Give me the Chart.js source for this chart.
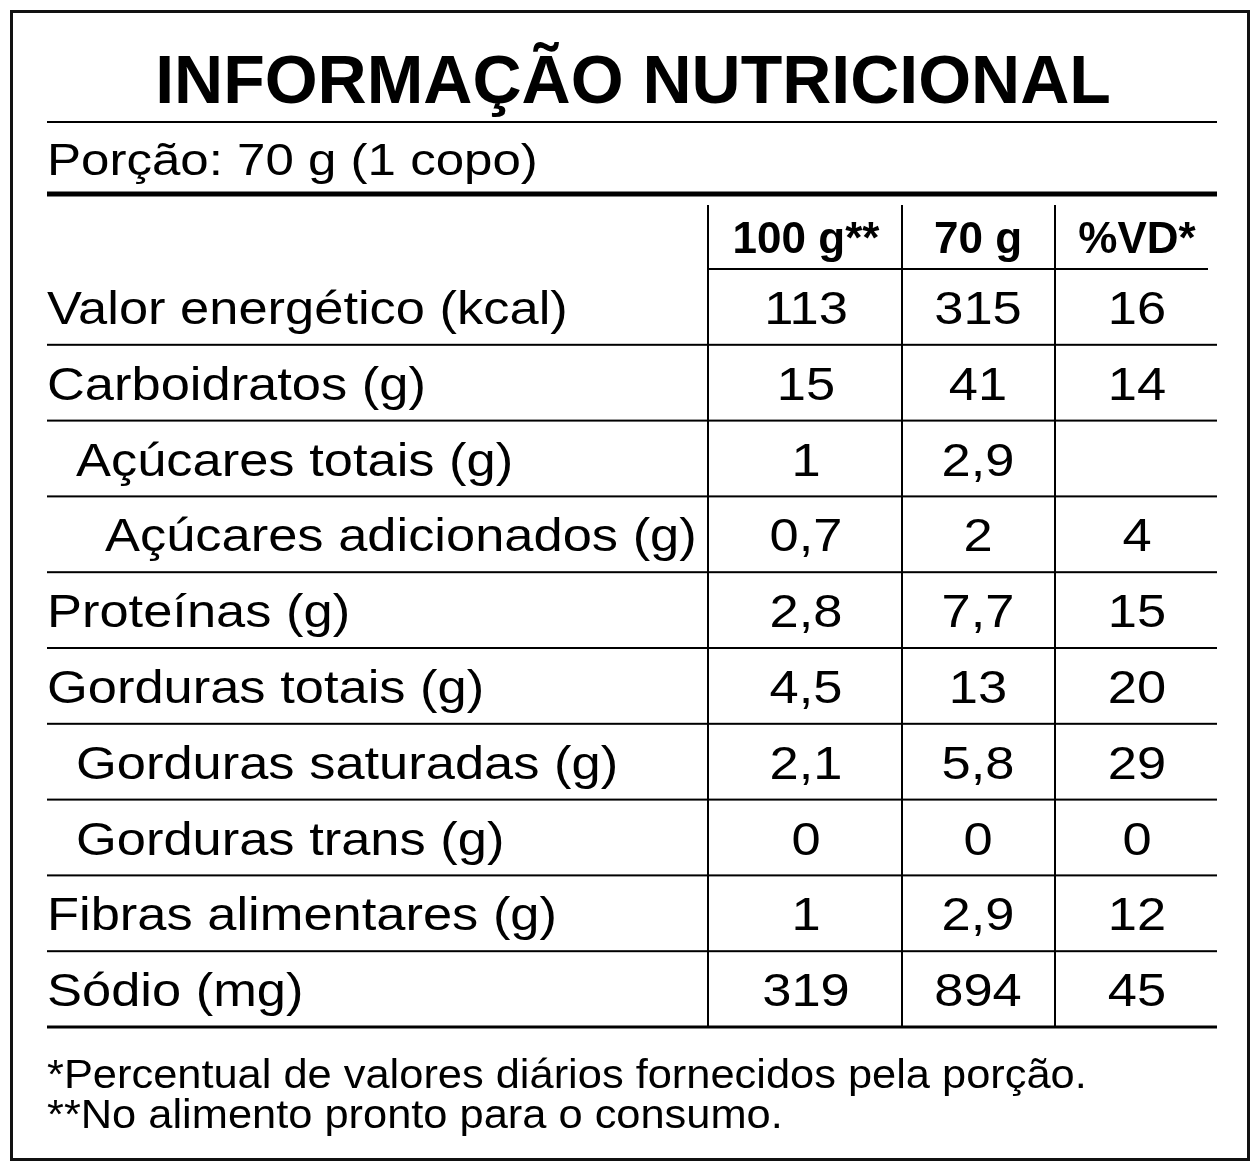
<!DOCTYPE html>
<html><head><meta charset="utf-8">
<script src="https://cdn.jsdelivr.net/npm/chart.js@4"></script>
<style>html,body{margin:0;padding:0;background:#fff}#w{width:1260px;height:1172px}</style>
</head><body><div id="w"><canvas id="c"></canvas></div>
<script>
const title = "INFORMAÇÃO NUTRICIONAL";
const portion = "Porção: 70 g (1 copo)";
const headers = ["100 g**", "70 g", "%VD*"];
const rows = ["Valor energético (kcal)","Carboidratos (g)","Açúcares totais (g)","Açúcares adicionados (g)","Proteínas (g)","Gorduras totais (g)","Gorduras saturadas (g)","Gorduras trans (g)","Fibras alimentares (g)","Sódio (mg)"];
const indent = [0,0,1,2,0,0,1,1,0,0];
const per100 = ["113","15","1","0,7","2,8","4,5","2,1","0","1","319"];
const per70 = ["315","41","2,9","2","7,7","13","5,8","0","2,9","894"];
const vd = ["16","14","","4","15","20","29","0","12","45"];
const notes = ["*Percentual de valores diários fornecidos pela porção.","**No alimento pronto para o consumo."];

const F = "'Liberation Sans', Arial, sans-serif";
const colX = [806, 978, 1137];
function st(ctx,text,x,y,sx,align){
  ctx.save(); ctx.translate(x,y); ctx.scale(sx,1); ctx.textAlign=align; ctx.fillText(text,0,0); ctx.restore();
}
const tablePlugin = {
  id:'table',
  afterDraw(chart){
    const ctx = chart.ctx, y = chart.scales.y;
    ctx.save();
    ctx.fillStyle='#000'; ctx.strokeStyle='#111';
    ctx.lineWidth=3; ctx.strokeRect(11.5,11.5,1237,1148);
    ctx.textBaseline='alphabetic';
    ctx.font='bold 68px '+F; ctx.textAlign='center';
    ctx.fillText(title,633,103,968);
    const hl=(x1,x2,yy,w)=>{ctx.fillRect(x1,yy-w/2,x2-x1,w);};
    hl(47,1217,122,2);
    ctx.font='44px '+F;
    st(ctx,portion,47,175,1.16,'left');
    hl(47,1217,194,5);
    ctx.font='bold 44px '+F; ctx.textAlign='center';
    headers.forEach((h,i)=>ctx.fillText(h,colX[i],253, i===0?150:(i===1?94:132)));
    hl(708,1208,269,2);
    [708,902,1055].forEach(x=>ctx.fillRect(x-1,205,2,822));
    const step = y.getPixelForValue(1)-y.getPixelForValue(0);
    rows.forEach((r,i)=>{
      const cy=y.getPixelForValue(i);
      ctx.font='46px '+F;
      st(ctx,r,47+indent[i]*29,cy+17,1.14,'left');
      [per100[i],per70[i],vd[i]].forEach((v,j)=>st(ctx,v,colX[j],cy+17,1.14,'center'));
      if(i<rows.length-1) hl(47,1217,cy+step/2,2);
    });
    hl(47,1217,1027,3);
    ctx.font='40px '+F;
    st(ctx,notes[0],47,1088,1.085,'left');
    st(ctx,notes[1],47,1128,1.085,'left');
    ctx.restore();
  }
};
new Chart(document.getElementById('c'),{
  type:'bar',
  data:{labels:rows,datasets:[{data:rows.map(()=>null),backgroundColor:'transparent'}]},
  options:{responsive:true,maintainAspectRatio:false,animation:false,devicePixelRatio:1,
    indexAxis:'y',
    layout:{padding:{top:269,bottom:145,left:0,right:0}},
    plugins:{legend:{display:false},tooltip:{enabled:false}},
    scales:{y:{type:'category',display:false,offset:true},x:{display:false,min:0,max:1}}},
  plugins:[tablePlugin]
});
</script></body></html>
